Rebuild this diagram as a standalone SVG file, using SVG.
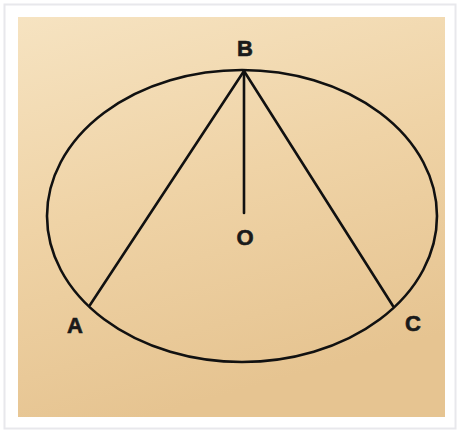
<svg xmlns="http://www.w3.org/2000/svg" width="460" height="432" viewBox="0 0 460 432">
  <defs>
    <linearGradient id="bg" x1="0" y1="0" x2="0.3" y2="1">
      <stop offset="0" stop-color="#F6E3C1"/>
      <stop offset="0.5" stop-color="#EFD3A6"/>
      <stop offset="1" stop-color="#E6C491"/>
    </linearGradient>
  </defs>
  <style>
    .ln { stroke: #111; stroke-width: 2.6; fill: none; stroke-linecap: round; }
    .lbl { font-family: "Liberation Sans", Arial, sans-serif; font-weight: bold; font-size: 22px; fill: #1a1a1a; stroke: #1a1a1a; stroke-width: 0.6; text-anchor: middle; }
  </style>
  <rect x="0" y="0" width="460" height="432" fill="#FFFFFF"/>
  <rect x="4.5" y="4.5" width="451" height="424" fill="none" stroke="#E8E8EC" stroke-width="2"/>
  <rect x="18" y="17" width="427" height="400" fill="url(#bg)"/>
  <g id="circle">
    <ellipse class="ln" cx="242" cy="216" rx="195" ry="146"/>
  </g>
  <g id="connectors">
    <line class="ln" x1="244" y1="71" x2="90" y2="305"/>
    <line class="ln" x1="244" y1="71" x2="393" y2="306"/>
    <line class="ln" x1="244" y1="71" x2="244" y2="213"/>
  </g>
  <g id="B"><text class="lbl" x="245" y="56">B</text></g>
  <g id="O"><text class="lbl" x="245" y="245">O</text></g>
  <g id="A"><text class="lbl" x="75" y="333">A</text></g>
  <g id="C"><text class="lbl" x="413" y="331">C</text></g>
</svg>
